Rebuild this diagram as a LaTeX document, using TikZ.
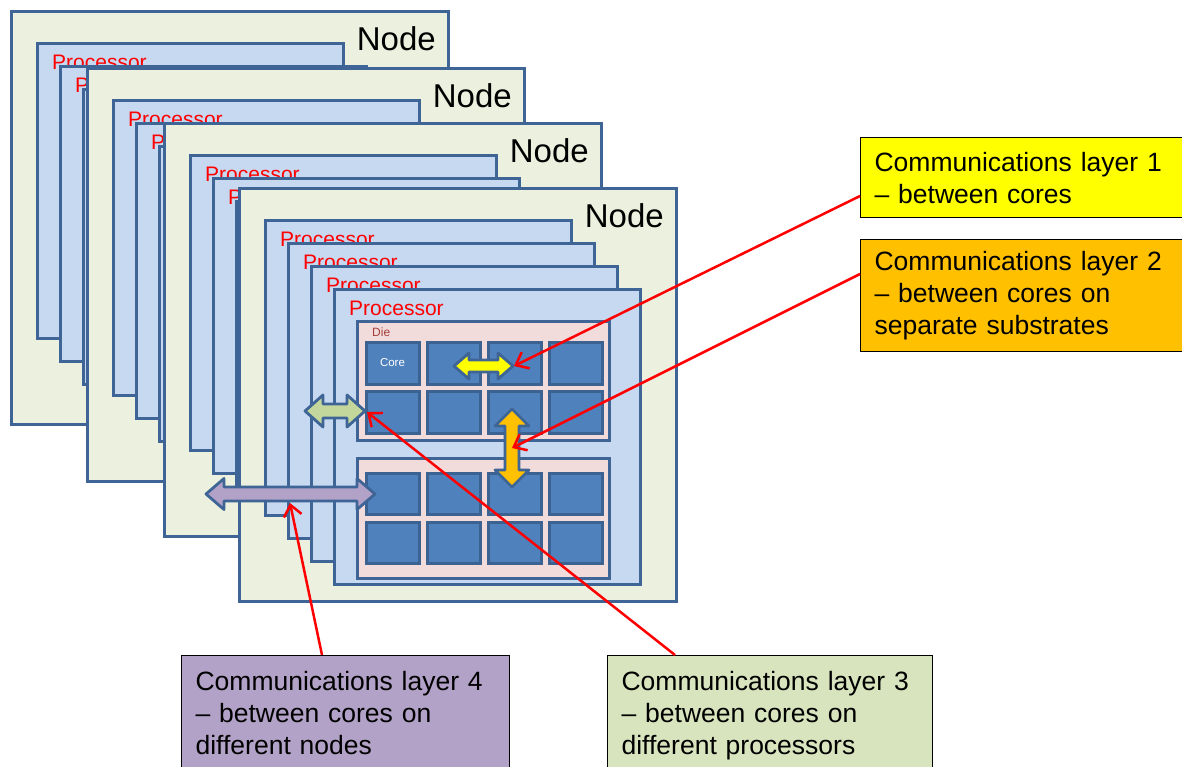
\documentclass[tikz,border=0pt]{standalone}
\usepackage{fontspec}
\setmainfont{Liberation Sans}
\usetikzlibrary{positioning,arrows.meta,calc}
\definecolor{Edge}{HTML}{3F6496}
\definecolor{NodeFill}{HTML}{EBF1DE}
\definecolor{ProcFill}{HTML}{C6D9F1}
\definecolor{DieFill}{HTML}{F2DCDB}
\definecolor{CoreFill}{HTML}{4F81BD}
\definecolor{CoreEdge}{HTML}{3B6291}
\definecolor{DieText}{HTML}{A23E3B}
\definecolor{Layer1}{HTML}{FFFF00}
\definecolor{Layer2}{HTML}{FFC000}
\definecolor{Layer3}{HTML}{D7E4BD}
\definecolor{Link3}{HTML}{C3D69B}
\definecolor{Layer4}{HTML}{B3A2C7}

% double headed block arrow along the x axis, starting at the origin
% #1 style, #2 length, #3 half shaft, #4 half head, #5 head length
\newcommand{\dblarrow}[5]{%
  \draw[#1] (0,0) -- (#5,-#4) -- (#5,-#3) -- ({#2-#5},-#3) -- ({#2-#5},-#4) -- (#2,0)
    -- ({#2-#5},#4) -- ({#2-#5},#3) -- (#5,#3) -- (#5,#4) -- cycle;}

\begin{document}
\begin{tikzpicture}[x=1pt,y=-1pt,every node/.style={inner sep=0pt}]
\tikzstyle{nodebox}=[draw=Edge,fill=NodeFill,line width=3pt,minimum width=437pt,minimum height=413pt,anchor=north west]
\tikzstyle{procbox}=[draw=Edge,fill=ProcFill,line width=3pt,minimum width=306pt,minimum height=295pt,anchor=north west]
\tikzstyle{diebox}=[draw=Edge,fill=DieFill,line width=3pt,minimum width=252pt,anchor=north west]
\tikzstyle{corebox}=[draw=CoreEdge,fill=CoreFill,line width=3pt,minimum width=53pt,minimum height=42pt,anchor=north west]
\tikzstyle{nodetext}=[font=\fontsize{33}{36}\selectfont,anchor=base east]
\tikzstyle{proctext}=[font=\fontsize{21}{24}\selectfont,text=red,anchor=base west]
\tikzstyle{linkarrow}=[draw=Edge,line width=2.8pt,line join=round]
\tikzstyle{layerbox}=[draw=black,line width=1.2pt,anchor=north west,align=left,inner xsep=14pt,font=\fontsize{26.5}{32}\selectfont]
\tikzstyle{pointer}=[draw=red,line width=2.5pt,-{Straight Barb[length=11pt,width=18pt]}]
\useasboundingbox (0,0) rectangle (1182,766);
\clip (0,0) rectangle (1182,766);

% four nodes, each holding a stack of four processors
\foreach \nx/\ny [count=\k] in {10/10,86/67,163/122,238/187}{
  \node[nodebox] (n\k) at (\nx,\ny) {};
  \node[nodetext] at ($(n\k.north east)+(-14,40)$) {Node};
  \foreach \i in {0,...,3}{
    \node[procbox] (p\k\i) at ($(n\k.north west)+(26+23*\i,32+23*\i)$) {};
    \node[proctext] at ($(p\k\i.north west)+(16,27)$) {Processor};
  }
}

% two dies on the front processor
\node[diebox,minimum height=119pt] (die1) at ($(p43.north west)+(23,32)$) {};
\node[diebox,minimum height=120pt] (die2) at ($(p43.north west)+(23,169)$) {};
\node[font=\fontsize{12}{14}\selectfont,text=DieText,anchor=base west] at ($(die1.north west)+(16,16)$) {Die};
\foreach \c in {0,...,3}{
  \foreach \r in {0,1}{
    \node[corebox] (ca\r\c) at ($(die1.north west)+(8.5+61*\c,20.5+49*\r)$) {};
    \node[corebox,minimum height=41pt] (cb\r\c) at ($(die2.north west)+(8.5+61*\c,14.5+49*\r)$) {};
  }
}
\node[font=\fontsize{11.5}{13}\selectfont,text=white] at (ca00) {Core};

% links between cores
\begin{scope}[shift={(454,366)}]\dblarrow{linkarrow,fill=Layer1}{59}{6}{13}{15}\end{scope}
\begin{scope}[shift={(512,409)},rotate=-90]\dblarrow{linkarrow,fill=Layer2}{78}{7}{17}{17}\end{scope}
\begin{scope}[shift={(305,411)}]\dblarrow{linkarrow,fill=Link3}{60}{7}{16}{18}\end{scope}
\begin{scope}[shift={(206,494)}]\dblarrow{linkarrow,fill=Layer4}{169}{7}{15.5}{18}\end{scope}
\coordinate (t1) at (514,366);
\coordinate (t2) at (512,448);
\coordinate (t3) at (367,412);
\coordinate (t4) at (290,503);

% layer descriptions
\node[layerbox,fill=Layer1,text width=320pt,minimum height=80pt] (c1) at (860,137) {Communications layer 1\\ -- between cores};
\node[layerbox,fill=Layer2,text width=320pt,minimum height=112pt] (c2) at (860,239) {Communications layer 2\\ -- between cores on\\ separate substrates};
\node[layerbox,fill=Layer3,text width=297pt,minimum height=121pt] (c3) at (607,655) {Communications layer 3\\ -- between cores on\\ different processors};
\node[layerbox,fill=Layer4,text width=300pt,minimum height=115pt] (c4) at (181,655) {Communications layer 4\\ -- between cores on\\ different nodes};

\draw[pointer] ([yshift=-59pt]c1.north west) -- (t1);
\draw[pointer] ([yshift=-35pt]c2.north west) -- (t2);
\draw[pointer] ([xshift=68pt]c3.north west) -- (t3);
\draw[pointer] ([xshift=141pt]c4.north west) -- (t4);
\end{tikzpicture}
\end{document}
